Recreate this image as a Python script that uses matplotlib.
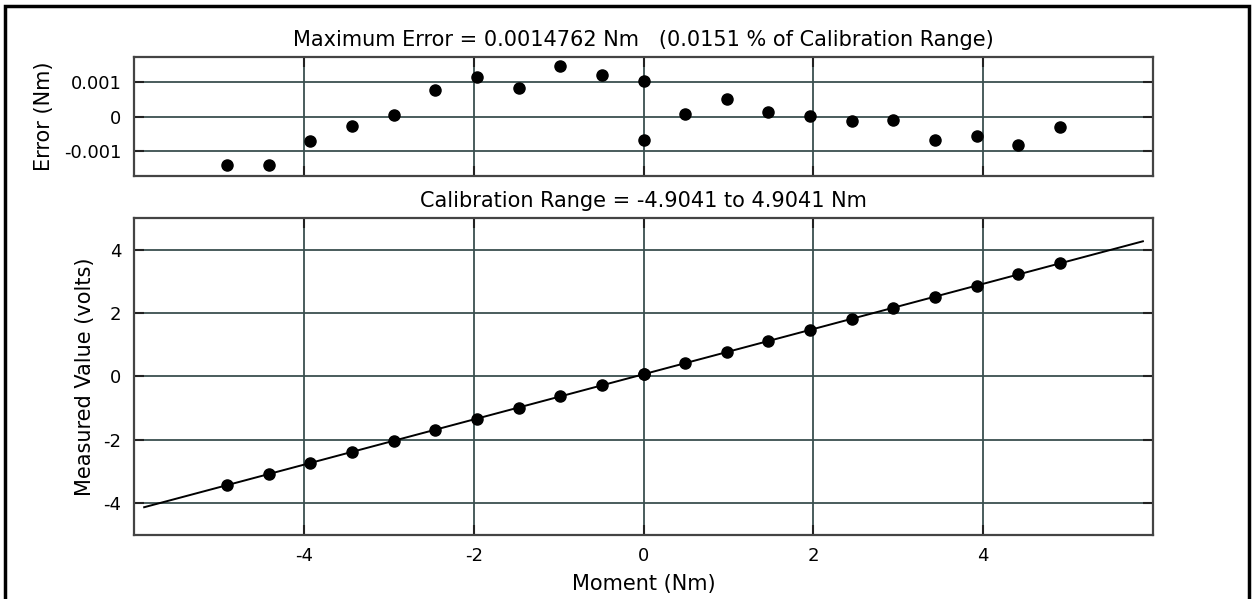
import matplotlib
matplotlib.use("Agg")
import matplotlib.pyplot as plt
import numpy as np
from matplotlib.patches import Rectangle

plt.rcParams['axes.unicode_minus'] = False

# calibration data
moment = [-4.9041, -4.4137, -3.9233, -3.4329, -2.9425, -2.4520, -1.9616,
          -1.4712, -0.9808, -0.4904, 0.0, 0.0, 0.4904, 0.9808, 1.4712,
          1.9616, 2.4520, 2.9425, 3.4329, 3.9233, 4.4137, 4.9041]
measured = [-3.43, -3.08, -2.73, -2.38, -2.03, -1.68, -1.33, -0.98, -0.63,
            -0.28, 0.07, 0.07, 0.42, 0.77, 1.12, 1.47, 1.82, 2.17, 2.52,
            2.87, 3.22, 3.57]
error = [-0.00143, -0.00143, -0.00073, -0.00028, 0.00005, 0.00077, 0.00117,
         0.00084, 0.0014762, 0.00121, 0.00104, -0.00070, 0.00007, 0.00050,
         0.00012, 0.00002, -0.00014, -0.00010, -0.00069, -0.00056,
         -0.00083, -0.00030]
fit_range = [-5.88, 5.88]

grid_col = '#3a4f4f'
spine_col = '#444444'

fig = plt.figure(figsize=(12.52, 5.99), dpi=100)
ax1 = fig.add_axes([0.107, 0.706, 0.814, 0.199])
ax2 = fig.add_axes([0.107, 0.107, 0.814, 0.529])

# fitted line
m, b = np.polyfit(moment, measured, 1)
fx = np.array(fit_range)

ax1.plot(moment, error, 'o', color='black', ms=8)
ax2.plot(fx, m * fx + b, '-', color='black', lw=1.4)
ax2.plot(moment, measured, 'o', color='black', ms=8)

ax1.set_xlim(-6, 6)
ax1.set_ylim(-0.00175, 0.00175)
ax1.set_yticks([-0.001, 0, 0.001])
ax1.set_yticklabels(['-0.001', '0', '0.001'])
ax1.set_xticks([-4, -2, 0, 2, 4])
ax1.set_xticklabels([])
ax1.set_ylabel('Error (Nm)', fontsize=15, labelpad=7)
ax1.set_title('Maximum Error = 0.0014762 Nm   (0.0151 % of Calibration Range)',
              fontsize=15, pad=8)

ax2.set_xlim(-6, 6)
ax2.set_ylim(-5, 5)
ax2.set_xticks([-4, -2, 0, 2, 4])
ax2.set_yticks([-4, -2, 0, 2, 4])
ax2.set_xlabel('Moment (Nm)', fontsize=15, labelpad=6)
ax2.set_ylabel('Measured Value (volts)', fontsize=15, labelpad=6)
ax2.set_title('Calibration Range = -4.9041 to 4.9041 Nm', fontsize=15, pad=8)

for ax in (ax1, ax2):
    ax.grid(True, color=grid_col, lw=1.3)
    ax.set_axisbelow(True)
    ax.tick_params(direction='in', length=7, width=1.5, labelsize=13, pad=9,
                   top=True, right=True, color='#222222')
    for s in ax.spines.values():
        s.set_color(spine_col)
        s.set_linewidth(1.6)

# border around the picture
fig.add_artist(Rectangle((0.004, -0.1), 0.994, 1.09, transform=fig.transFigure,
                         fill=False, edgecolor='black', lw=2.5))

fig.savefig('out.png', dpi=100)
